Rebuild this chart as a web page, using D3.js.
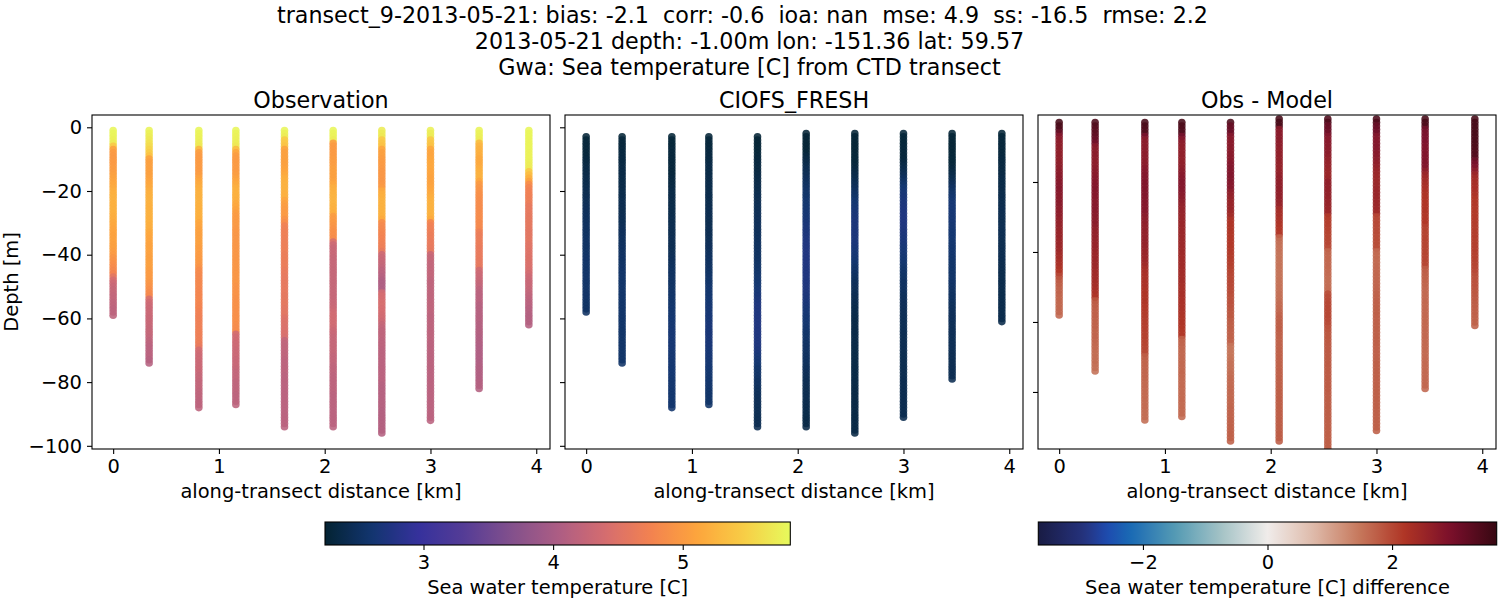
<!DOCTYPE html>
<html>
<head>
<meta charset="utf-8">
<script src="https://cdn.jsdelivr.net/npm/d3@7"></script>
<style>
    html, body { margin: 0; padding: 0; background: #fff; }
    text { font-family: "DejaVu Sans"; fill: #000; }
    .domain { display: none; }
    .tick line { stroke: #000; stroke-width: 1.1; }
</style>
</head>
<body>
<div id="chart"></div>
<script>
// ----------------------------------------------------------------------
// values

const titleLines = [
    "transect_9-2013-05-21: bias: -2.1  corr: -0.6  ioa: nan  mse: 4.9  ss: -16.5  rmse: 2.2",
    "2013-05-21 depth: -1.00m lon: -151.36 lat: 59.57",
    "Gwa: Sea temperature [C] from CTD transect"
];
const panelTitles = ["Observation", "CIOFS_FRESH", "Obs - Model"];

const stationKm = [0, 0.34, 0.81, 1.16, 1.62, 2.08, 2.54, 3.0, 3.46, 3.93];
const xTicks = [0, 1, 2, 3, 4];
const yTicks = [0, -20, -40, -60, -80, -100];
const diffYTicks = [-20, -40, -60, -80];
const tempTicks = [3, 4, 5];
const diffTicks = [-2, 0, 2];

// shallowest level of each station, one value per metre below it
const obsTop = [-1, -1, -1, -1, -1, -1, -1, -1, -1, -1];
const modelTop = [-3, -3, -3, -3, -3, -2, -2, -2, -2, -2];

const obsTemp = [
[5.80,5.80,5.78,5.75,5.70,5.42,5.08,5.00,4.98,4.98,
 5.00,5.00,5.02,5.02,5.05,5.08,5.10,5.12,5.15,5.18,
 5.20,5.22,5.22,5.20,5.20,5.22,5.20,5.18,5.18,5.15,
 5.12,5.10,5.10,5.08,5.08,5.08,5.05,5.05,5.02,5.00,
 4.95,4.92,4.88,4.85,4.80,4.75,4.55,4.40,4.32,4.28,
 4.25,4.25,4.22,4.22,4.20,4.20,4.18,4.18,4.18],
[5.78,5.75,5.72,5.68,5.62,5.58,5.52,5.45,5.35,5.08,
 5.05,5.05,5.05,5.05,5.05,5.08,5.10,5.12,5.15,5.18,
 5.20,5.22,5.22,5.22,5.20,5.20,5.22,5.22,5.20,5.20,
 5.18,5.18,5.15,5.12,5.10,5.10,5.08,5.08,5.08,5.06,
 5.05,5.05,5.05,5.05,5.02,5.00,5.00,4.98,4.95,4.92,
 4.88,4.84,4.80,4.42,4.35,4.32,4.30,4.30,4.30,4.28,
 4.28,4.28,4.25,4.25,4.25,4.22,4.20,4.18,4.15,4.15,
 4.15,4.15,4.12,4.12],
[5.80,5.78,5.76,5.74,5.70,5.68,5.25,5.02,5.00,5.00,
 5.00,5.00,5.00,5.00,5.02,5.08,5.12,5.15,5.18,5.20,
 5.22,5.22,5.22,5.22,5.20,5.20,5.20,5.20,5.18,5.12,
 5.10,5.08,5.06,5.05,5.05,5.05,5.05,5.02,5.02,5.00,
 5.00,4.98,4.96,4.92,4.85,4.82,4.80,4.80,4.80,4.80,
 4.78,4.78,4.78,4.78,4.78,4.76,4.75,4.72,4.72,4.70,
 4.70,4.70,4.70,4.70,4.70,4.68,4.68,4.66,4.60,4.38,
 4.35,4.32,4.32,4.30,4.30,4.30,4.28,4.25,4.25,4.22,
 4.22,4.22,4.20,4.20,4.20,4.18,4.18,4.18],
[5.80,5.78,5.76,5.74,5.72,5.68,5.30,5.10,5.02,5.00,
 5.00,5.00,5.00,5.00,5.02,5.05,5.10,5.15,5.18,5.20,
 5.20,5.20,5.18,5.15,5.12,5.08,5.02,5.00,5.00,4.98,
 4.98,4.96,4.96,4.95,4.95,4.95,4.95,4.95,4.95,4.95,
 4.95,4.95,4.95,4.95,4.95,4.95,4.95,4.95,4.95,4.92,
 4.92,4.92,4.92,4.90,4.90,4.90,4.90,4.88,4.88,4.88,
 4.88,4.86,4.85,4.85,4.38,4.36,4.35,4.32,4.32,4.30,
 4.30,4.30,4.28,4.28,4.28,4.25,4.22,4.22,4.22,4.20,
 4.20,4.20,4.20,4.18,4.18,4.18,4.18],
[5.80,5.76,5.72,5.45,5.42,5.38,5.08,5.05,5.05,5.05,
 5.05,5.05,5.08,5.10,5.15,5.18,5.20,5.22,5.22,5.22,
 5.20,5.20,5.10,5.05,5.02,5.00,5.00,5.00,4.92,4.85,
 4.72,4.70,4.70,4.70,4.68,4.68,4.68,4.68,4.68,4.66,
 4.66,4.66,4.65,4.65,4.62,4.62,4.60,4.60,4.60,4.60,
 4.60,4.60,4.58,4.58,4.58,4.58,4.55,4.55,4.55,4.50,
 4.48,4.48,4.46,4.45,4.45,4.42,4.22,4.20,4.20,4.20,
 4.20,4.20,4.18,4.18,4.18,4.18,4.18,4.16,4.16,4.16,
 4.15,4.15,4.15,4.15,4.15,4.15,4.15,4.15,4.15,4.15,
 4.15,4.15,4.15,4.15],
[5.80,5.78,5.76,5.72,5.02,5.00,5.00,5.00,5.00,5.02,
 5.02,5.02,5.05,5.05,5.05,5.05,5.08,5.12,5.18,5.20,
 5.22,5.24,5.24,5.24,5.22,5.20,5.18,5.02,5.00,4.98,
 4.95,4.92,4.90,4.88,4.86,4.42,4.32,4.28,4.28,4.28,
 4.26,4.26,4.26,4.26,4.25,4.25,4.25,4.25,4.25,4.25,
 4.25,4.26,4.26,4.26,4.28,4.28,4.30,4.34,4.36,4.36,
 4.36,4.36,4.34,4.30,4.28,4.26,4.26,4.25,4.25,4.25,
 4.25,4.22,4.22,4.22,4.20,4.20,4.20,4.18,4.18,4.18,
 4.18,4.18,4.18,4.16,4.16,4.16,4.16,4.16,4.15,4.15,
 4.15,4.15,4.15,4.15],
[5.72,5.70,5.68,5.42,5.40,5.35,5.10,5.05,5.05,5.02,
 5.00,5.00,4.98,4.96,4.96,4.96,4.95,4.96,5.00,5.15,
 5.18,5.20,5.22,5.22,5.22,5.22,5.22,5.20,5.15,4.85,
 4.82,4.80,4.78,4.76,4.74,4.72,4.70,4.68,4.60,4.32,
 4.30,4.28,4.25,4.22,4.18,4.15,4.12,4.08,4.05,4.05,
 4.05,4.38,4.40,4.40,4.42,4.42,4.40,4.40,4.38,4.36,
 4.32,4.25,4.22,4.20,4.20,4.20,4.18,4.18,4.18,4.16,
 4.16,4.16,4.16,4.15,4.15,4.15,4.15,4.15,4.15,4.15,
 4.12,4.12,4.12,4.12,4.12,4.12,4.12,4.12,4.10,4.10,
 4.10,4.10,4.10,4.10,4.10,4.10],
[5.75,5.72,5.70,5.42,5.40,5.35,5.12,5.10,5.10,5.12,
 5.12,5.12,5.12,5.10,5.10,5.08,5.08,5.08,5.10,5.12,
 5.15,5.18,5.20,5.22,5.22,5.22,5.22,5.20,5.15,4.75,
 4.72,4.70,4.68,4.66,4.65,4.62,4.62,4.60,4.58,4.28,
 4.25,4.25,4.22,4.22,4.22,4.22,4.22,4.20,4.20,4.20,
 4.20,4.20,4.20,4.20,4.20,4.20,4.20,4.20,4.18,4.18,
 4.18,4.18,4.18,4.18,4.18,4.18,4.18,4.16,4.16,4.16,
 4.16,4.16,4.16,4.16,4.16,4.16,4.15,4.15,4.15,4.15,
 4.15,4.15,4.15,4.15,4.15,4.15,4.15,4.15,4.15,4.15,
 4.15,4.15],
[5.78,5.76,5.74,5.70,5.30,5.25,5.22,5.20,5.18,5.15,
 5.15,5.15,5.18,5.20,5.22,5.22,5.10,4.98,4.95,4.92,
 4.90,4.88,4.86,4.85,4.85,4.85,4.85,4.85,4.85,4.82,
 4.82,4.80,4.68,4.66,4.65,4.65,4.65,4.62,4.62,4.62,
 4.62,4.60,4.60,4.58,4.35,4.32,4.30,4.28,4.25,4.22,
 4.18,4.16,4.15,4.15,4.15,4.12,4.12,4.12,4.12,4.12,
 4.12,4.10,4.10,4.10,4.10,4.08,4.08,4.08,4.06,4.06,
 4.06,4.06,4.06,4.06,4.08,4.08,4.08,4.08,4.08,4.10,
 4.10,4.10],
[5.80,5.80,5.80,5.78,5.78,5.78,5.78,5.76,5.76,5.76,
 5.74,5.72,5.70,5.42,5.32,5.20,5.05,4.85,4.76,4.72,
 4.72,4.70,4.68,4.65,4.60,4.60,4.60,4.58,4.58,4.58,
 4.58,4.56,4.55,4.55,4.55,4.55,4.52,4.52,4.50,4.50,
 4.48,4.48,4.46,4.45,4.42,4.38,4.32,4.30,4.28,4.28,
 4.25,4.22,4.20,4.18,4.16,4.15,4.12,4.12,4.10,4.10,
 4.10,4.10]
];

const modelTemp = [
[2.27,2.27,2.28,2.28,2.28,2.28,2.28,2.30,2.32,2.33,
 2.34,2.35,2.36,2.37,2.38,2.38,2.39,2.40,2.41,2.42,
 2.43,2.44,2.45,2.46,2.47,2.48,2.48,2.49,2.50,2.50,
 2.51,2.51,2.52,2.52,2.52,2.52,2.53,2.53,2.54,2.54,
 2.55,2.55,2.55,2.56,2.56,2.56,2.55,2.55,2.55,2.54,
 2.54,2.54,2.53,2.53,2.52,2.52],
[2.27,2.28,2.28,2.28,2.29,2.30,2.31,2.32,2.32,2.33,
 2.33,2.34,2.34,2.35,2.35,2.36,2.36,2.37,2.38,2.38,
 2.39,2.40,2.40,2.41,2.41,2.42,2.42,2.43,2.44,2.45,
 2.46,2.47,2.48,2.48,2.49,2.50,2.50,2.51,2.52,2.52,
 2.53,2.54,2.54,2.55,2.55,2.55,2.56,2.56,2.56,2.56,
 2.56,2.56,2.56,2.56,2.56,2.56,2.56,2.56,2.56,2.56,
 2.56,2.55,2.55,2.55,2.55,2.55,2.55,2.55,2.55,2.55,
 2.55,2.55],
[2.27,2.27,2.27,2.27,2.28,2.28,2.28,2.28,2.28,2.28,
 2.28,2.28,2.29,2.30,2.31,2.32,2.33,2.34,2.35,2.36,
 2.36,2.36,2.37,2.37,2.38,2.38,2.39,2.39,2.40,2.40,
 2.41,2.41,2.42,2.42,2.42,2.42,2.43,2.44,2.45,2.46,
 2.47,2.48,2.49,2.50,2.50,2.51,2.52,2.52,2.53,2.54,
 2.55,2.55,2.56,2.57,2.58,2.58,2.59,2.60,2.60,2.61,
 2.61,2.62,2.62,2.62,2.62,2.62,2.62,2.62,2.61,2.61,
 2.61,2.60,2.60,2.60,2.60,2.60,2.59,2.59,2.59,2.59,
 2.58,2.58,2.58,2.58,2.58,2.58],
[2.27,2.28,2.28,2.28,2.29,2.30,2.31,2.32,2.33,2.34,
 2.34,2.35,2.35,2.36,2.36,2.37,2.37,2.37,2.38,2.38,
 2.38,2.39,2.39,2.40,2.40,2.40,2.41,2.41,2.41,2.42,
 2.42,2.42,2.43,2.44,2.45,2.46,2.47,2.48,2.49,2.50,
 2.50,2.51,2.52,2.53,2.54,2.55,2.56,2.57,2.58,2.58,
 2.59,2.60,2.60,2.61,2.62,2.62,2.63,2.64,2.64,2.65,
 2.65,2.65,2.65,2.65,2.65,2.65,2.65,2.64,2.63,2.63,
 2.62,2.61,2.60,2.60,2.59,2.59,2.58,2.58,2.57,2.57,
 2.56,2.56,2.55,2.55,2.55],
[2.26,2.26,2.26,2.26,2.27,2.27,2.28,2.29,2.30,2.30,
 2.31,2.32,2.33,2.34,2.35,2.36,2.37,2.38,2.39,2.40,
 2.41,2.42,2.43,2.43,2.44,2.44,2.45,2.45,2.46,2.46,
 2.47,2.47,2.48,2.48,2.49,2.49,2.50,2.50,2.51,2.52,
 2.53,2.54,2.55,2.56,2.57,2.58,2.59,2.60,2.62,2.64,
 2.65,2.67,2.68,2.70,2.70,2.71,2.71,2.72,2.72,2.72,
 2.72,2.72,2.72,2.71,2.71,2.70,2.70,2.68,2.66,2.64,
 2.62,2.60,2.58,2.56,2.55,2.54,2.52,2.50,2.50,2.48,
 2.47,2.46,2.45,2.44,2.44,2.43,2.43,2.42,2.42,2.42,
 2.42,2.42],
[2.26,2.26,2.26,2.26,2.26,2.26,2.27,2.30,2.33,2.36,
 2.38,2.40,2.42,2.44,2.46,2.48,2.50,2.52,2.54,2.55,
 2.56,2.58,2.59,2.60,2.61,2.62,2.63,2.64,2.65,2.66,
 2.67,2.68,2.69,2.70,2.71,2.72,2.72,2.73,2.73,2.73,
 2.73,2.73,2.72,2.72,2.72,2.72,2.71,2.71,2.70,2.70,
 2.69,2.68,2.67,2.66,2.65,2.64,2.63,2.62,2.61,2.60,
 2.59,2.58,2.57,2.56,2.55,2.54,2.53,2.52,2.52,2.51,
 2.50,2.49,2.48,2.47,2.46,2.45,2.44,2.43,2.42,2.42,
 2.41,2.41,2.40,2.40,2.39,2.39,2.38,2.38,2.37,2.37,
 2.36,2.36,2.36],
[2.26,2.26,2.26,2.26,2.26,2.26,2.26,2.27,2.27,2.27,
 2.28,2.30,2.33,2.36,2.38,2.40,2.43,2.46,2.49,2.52,
 2.55,2.58,2.60,2.62,2.64,2.65,2.66,2.67,2.68,2.68,
 2.68,2.68,2.68,2.68,2.67,2.66,2.65,2.64,2.63,2.62,
 2.60,2.58,2.56,2.54,2.52,2.50,2.48,2.46,2.45,2.44,
 2.43,2.42,2.41,2.40,2.39,2.38,2.38,2.37,2.37,2.36,
 2.36,2.36,2.36,2.36,2.36,2.36,2.36,2.36,2.35,2.35,
 2.35,2.35,2.35,2.35,2.35,2.35,2.35,2.35,2.35,2.35,
 2.34,2.34,2.34,2.34,2.34,2.34,2.34,2.34,2.34,2.34,
 2.34,2.34,2.34,2.34,2.34],
[2.27,2.27,2.27,2.27,2.28,2.28,2.28,2.28,2.29,2.32,
 2.35,2.38,2.41,2.44,2.48,2.52,2.56,2.60,2.62,2.64,
 2.65,2.66,2.68,2.69,2.70,2.71,2.72,2.72,2.72,2.71,
 2.70,2.69,2.68,2.67,2.66,2.65,2.64,2.63,2.62,2.61,
 2.60,2.59,2.57,2.56,2.54,2.53,2.52,2.50,2.50,2.49,
 2.48,2.47,2.46,2.46,2.45,2.45,2.44,2.44,2.44,2.43,
 2.43,2.43,2.43,2.42,2.42,2.42,2.42,2.42,2.42,2.41,
 2.41,2.41,2.41,2.41,2.41,2.41,2.41,2.40,2.40,2.40,
 2.40,2.40,2.40,2.40,2.40,2.40,2.40,2.40,2.40,2.40],
[2.26,2.26,2.26,2.26,2.26,2.26,2.26,2.27,2.27,2.27,
 2.28,2.30,2.33,2.36,2.39,2.42,2.46,2.50,2.53,2.56,
 2.58,2.60,2.62,2.63,2.63,2.63,2.62,2.62,2.62,2.61,
 2.61,2.60,2.60,2.60,2.59,2.59,2.58,2.58,2.58,2.57,
 2.57,2.56,2.56,2.56,2.55,2.55,2.55,2.54,2.53,2.52,
 2.51,2.50,2.49,2.48,2.47,2.46,2.46,2.45,2.45,2.45,
 2.44,2.44,2.44,2.44,2.43,2.43,2.43,2.43,2.43,2.42,
 2.42,2.42,2.42,2.42,2.42,2.42,2.42,2.42],
[2.27,2.27,2.28,2.28,2.28,2.28,2.28,2.29,2.30,2.31,
 2.32,2.32,2.33,2.33,2.34,2.35,2.35,2.36,2.36,2.37,
 2.38,2.38,2.39,2.39,2.40,2.40,2.41,2.41,2.41,2.42,
 2.42,2.42,2.42,2.42,2.41,2.41,2.41,2.40,2.40,2.40,
 2.40,2.39,2.39,2.39,2.38,2.38,2.38,2.38,2.38,2.38,
 2.38,2.38,2.38,2.38,2.38,2.38,2.38,2.38,2.38,2.38]
];

// cmocean thermal and balance, sampled by eye from the colorbars
const thermalStops = [0, 0.1, 0.2, 0.3, 0.4, 0.5, 0.6, 0.7, 0.8, 0.9, 1];
const thermalColors = ["#042333", "#12356f", "#35319c", "#553c96", "#82508c", "#ac5d84", "#d46c70", "#f38250", "#fda53c", "#f8cd46", "#e6fa5c"];
const balanceStops = [0, 0.1, 0.15, 0.2, 0.3, 0.4, 0.5, 0.6, 0.7, 0.8, 0.9, 1];
const balanceColors = ["#191c44", "#25327d", "#1e4baf", "#1969b4", "#559bb4", "#a5c3c6", "#f0ecea", "#debaaa", "#c6785c", "#af3424", "#7a0f2b", "#370812"];

const tempRange = [2.24, 5.83];
const diffRange = [-3.68, 3.68];

// ----------------------------------------------------------------------

const svg = d3.select("#chart").append("svg")
    .attr("width", 1500)
    .attr("height", 600);

const defs = svg.append("defs");

function colormap(stops, colors, domain) {
    let values = stops.map(t => domain[0] + (domain[1] - domain[0]) * t);
    return d3.scaleLinear().domain(values).range(colors).interpolate(d3.interpolateRgb).clamp(true);
}

const tempColor = colormap(thermalStops, thermalColors, tempRange);
const diffColor = colormap(balanceStops, balanceColors, diffRange);

// turn the per-station arrays into one point per sample
function obsPoints() {
    let pts = [];
    obsTemp.forEach((vals, s) => vals.forEach((v, k) => {
        pts.push({km: stationKm[s], depth: obsTop[s] - k, value: v});
    }));
    return pts;
}

function modelPoints() {
    let pts = [];
    modelTemp.forEach((vals, s) => vals.forEach((v, k) => {
        pts.push({km: stationKm[s], depth: modelTop[s] - k, value: v});
    }));
    return pts;
}

function diffPoints() {
    let pts = [];
    modelTemp.forEach((vals, s) => vals.forEach((v, k) => {
        let depth = modelTop[s] - k;
        let obs = obsTemp[s][obsTop[s] - depth];
        pts.push({km: stationKm[s], depth: depth, value: obs - v});
    }));
    return pts;
}

function drawPanel(opts) {
    let left = opts.left, right = left + 458, top = 115, bottom = 449;

    let x = d3.scaleLinear().domain([-0.2, 4.13]).range([left, right]);
    let y = d3.scaleLinear().domain(opts.yDomain).range([bottom, top]);

    let g = svg.append("g");

    g.append("clipPath").attr("id", "clip" + left)
        .append("rect")
        .attr("x", left).attr("y", top)
        .attr("width", right - left).attr("height", bottom - top);

    g.append("g")
        .attr("clip-path", "url(#clip" + left + ")")
        .selectAll("circle")
        .data(opts.points)
        .enter()
        .append("circle")
        .attr("cx", d => x(d.km))
        .attr("cy", d => y(d.depth))
        .attr("r", 3.8)
        .attr("fill", d => opts.color(d.value))
        .attr("fill-opacity", 0.88);

    let xAxis = g.append("g")
        .attr("transform", "translate(0," + bottom + ")")
        .call(d3.axisBottom(x).tickValues(xTicks).tickFormat(d3.format("d")).tickSize(5).tickPadding(5));
    xAxis.selectAll("text").style("font-size", "19.44px");

    let yAxis = g.append("g")
        .attr("transform", "translate(" + left + ",0)")
        .call(d3.axisLeft(y).tickValues(opts.yTicks).tickSize(5).tickPadding(5)
            .tickFormat(opts.yLabels ? d3.format("d") : ""));
    yAxis.selectAll("text").style("font-size", "19.44px");

    g.append("rect")
        .attr("x", left).attr("y", top)
        .attr("width", right - left).attr("height", bottom - top)
        .attr("fill", "none")
        .attr("stroke", "#000")
        .attr("stroke-width", 1.1);

    g.append("text")
        .attr("x", (left + right) / 2).attr("y", 108)
        .attr("text-anchor", "middle")
        .style("font-size", "22.22px")
        .text(opts.title);

    g.append("text")
        .attr("x", (left + right) / 2).attr("y", 498)
        .attr("text-anchor", "middle")
        .style("font-size", "19.44px")
        .text("along-transect distance [km]");
}

function drawColorbar(opts) {
    let top = 522, height = 23;
    let x = d3.scaleLinear().domain(opts.domain).range([opts.left, opts.right]);
    let g = svg.append("g");

    // gradient stops come from the same colour scale as the points
    let n = 64;
    defs.append("linearGradient").attr("id", opts.id)
        .selectAll("stop")
        .data(d3.range(n + 1))
        .enter()
        .append("stop")
        .attr("offset", d => d / n)
        .attr("stop-color", d => opts.color(opts.domain[0] + (opts.domain[1] - opts.domain[0]) * d / n));

    g.append("rect")
        .attr("x", opts.left).attr("y", top)
        .attr("width", opts.right - opts.left).attr("height", height)
        .attr("fill", "url(#" + opts.id + ")")
        .attr("stroke", "#000")
        .attr("stroke-width", 1.1);

    let axis = g.append("g")
        .attr("transform", "translate(0," + (top + height) + ")")
        .call(d3.axisBottom(x).tickValues(opts.ticks).tickFormat(d3.format("d")).tickSize(5).tickPadding(5));
    axis.selectAll("text").style("font-size", "19.44px");

    g.append("text")
        .attr("x", (opts.left + opts.right) / 2).attr("y", 594)
        .attr("text-anchor", "middle")
        .style("font-size", "19.44px")
        .text(opts.label);
}

// ----------------------------------------------------------------------

titleLines.forEach((line, i) => {
    svg.append("text")
        .attr("x", i == 0 ? 742.5 : 749.5).attr("y", 23 + i * 26)
        .attr("text-anchor", "middle")
        .attr("xml:space", "preserve")
        .style("white-space", "pre")
        .style("font-size", "22.22px")
        .text(line);
});

drawPanel({left: 92, title: panelTitles[0], points: obsPoints(), color: tempColor,
    yDomain: [-101, 3.86], yTicks: yTicks, yLabels: true});
drawPanel({left: 565, title: panelTitles[1], points: modelPoints(), color: tempColor,
    yDomain: [-101, 3.86], yTicks: yTicks, yLabels: false});
drawPanel({left: 1038, title: panelTitles[2], points: diffPoints(), color: diffColor,
    yDomain: [-96.3, -0.86], yTicks: diffYTicks, yLabels: false});

svg.append("text")
    .attr("transform", "translate(18,282) rotate(-90)")
    .attr("text-anchor", "middle")
    .style("font-size", "19.44px")
    .text("Depth [m]");

drawColorbar({id: "tempBar", left: 325, right: 790.3, domain: tempRange, color: tempColor, ticks: tempTicks,
    label: "Sea water temperature [C]"});
drawColorbar({id: "diffBar", left: 1038.3, right: 1496.7, domain: diffRange, color: diffColor, ticks: diffTicks,
    label: "Sea water temperature [C] difference"});
</script>
</body>
</html>
